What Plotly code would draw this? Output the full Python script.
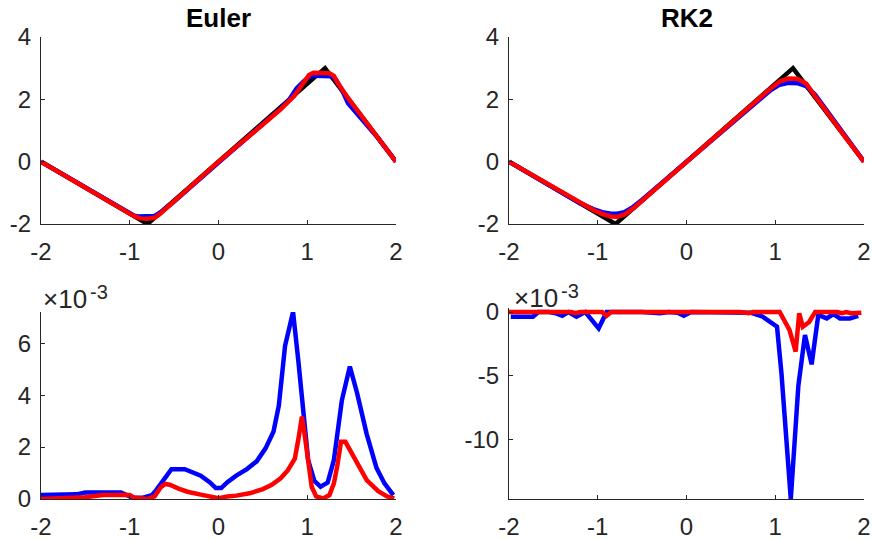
import plotly.graph_objects as go

# ---------------- data ----------------
# exact piecewise-linear solution (black)
x_exact = [-2.0, -0.8, 1.2, 2.0]
y_exact = [0.0, -2.0, 3.0, 0.0]

# Euler (top-left)
x_eu_blue = [-2, -1.5, -1.1, -1.0, -0.95, -0.9, -0.8, -0.72, -0.65, -0.5, 0, 0.4, 0.7, 0.8, 0.88, 0.95,
             1.02, 1.08, 1.2, 1.28, 1.33, 1.4, 1.46, 1.6, 1.8, 2.0]
y_eu_blue = [0, -0.83, -1.5, -1.65, -1.73, -1.76, -1.76, -1.74, -1.62, -1.28, -0.03, 0.95, 1.7, 2.0, 2.35, 2.55,
             2.72, 2.76, 2.76, 2.74, 2.6, 2.25, 1.87, 1.4, 0.75, 0.0]
x_eu_red = [-2, -1.5, -1.1, -1.0, -0.95, -0.88, -0.8, -0.72, -0.66, -0.5, 0, 0.4, 0.7, 0.85, 0.95, 1.02,
            1.07, 1.15, 1.25, 1.3, 1.35, 1.45, 1.6, 1.8, 2.0]
y_eu_red = [0, -0.83, -1.5, -1.67, -1.75, -1.82, -1.83, -1.8, -1.68, -1.27, 0, 0.95, 1.68, 2.1, 2.5, 2.78,
            2.85, 2.86, 2.84, 2.75, 2.5, 2.08, 1.5, 0.75, 0]

# RK2 (top-right)
x_rk_blue = [-2, -1.5, -1.2, -1.05, -0.95, -0.85, -0.78, -0.7, -0.6, -0.5, 0, 0.5, 0.8, 0.95, 1.05, 1.15,
             1.25, 1.35, 1.45, 1.55, 1.7, 1.85, 2.0]
y_rk_blue = [0, -0.83, -1.33, -1.52, -1.62, -1.67, -1.67, -1.62, -1.45, -1.22, 0, 1.22, 1.95, 2.3, 2.47, 2.53,
             2.52, 2.42, 2.15, 1.75, 1.15, 0.58, 0]
x_rk_red = [-2, -1.5, -1.2, -1.05, -0.95, -0.85, -0.78, -0.7, -0.6, -0.5, 0, 0.5, 0.8, 0.95, 1.05, 1.15,
            1.25, 1.35, 1.45, 1.6, 1.8, 2.0]
y_rk_red = [0, -0.83, -1.33, -1.55, -1.68, -1.76, -1.77, -1.7, -1.5, -1.25, 0, 1.25, 2.0, 2.35, 2.57, 2.67,
            2.66, 2.5, 2.1, 1.5, 0.75, 0]

# Euler error (bottom-left), units of 1e-3
x_eu_err_blue = [-2, -1.75, -1.6, -1.5, -1.1, -1.0, -0.95, -0.85, -0.75, -0.7, -0.6, -0.53, -0.38, -0.3, -0.2,
                 -0.1, -0.03, 0.03, 0.1, 0.2, 0.32, 0.43, 0.53, 0.62, 0.68, 0.75, 0.84, 0.9, 0.95, 1.01, 1.08,
                 1.15, 1.23, 1.3, 1.39, 1.48, 1.56, 1.67, 1.78, 1.87, 1.97]
y_eu_err_blue = [0.15, 0.15, 0.18, 0.25, 0.25, 0.1, 0.05, 0.05, 0.15, 0.35, 0.8, 1.15, 1.15, 1.05, 0.9,
                 0.65, 0.42, 0.42, 0.65, 0.9, 1.15, 1.45, 1.95, 2.6, 3.6, 5.9, 7.2, 5.3, 3.4, 1.5, 0.7,
                 0.47, 0.63, 1.5, 3.8, 5.1, 4.1, 2.5, 1.2, 0.6, 0.15]
x_eu_err_red = [-2, -1.7, -1.5, -1.3, -1.0, -0.95, -0.9, -0.8, -0.72, -0.65, -0.6, -0.55, -0.45, -0.35, -0.2,
                -0.1, 0.0, 0.1, 0.2, 0.35, 0.5, 0.6, 0.7, 0.78, 0.86, 0.9, 0.94, 0.97, 1.0, 1.05, 1.1, 1.18,
                1.25, 1.3, 1.34, 1.38, 1.43, 1.48, 1.56, 1.67, 1.8, 1.9, 1.98]
y_eu_err_red = [0, 0.02, 0.07, 0.15, 0.15, 0.05, 0.02, 0.0, 0.1, 0.45, 0.58, 0.55, 0.4, 0.28, 0.17,
                0.1, 0.03, 0.1, 0.13, 0.22, 0.38, 0.55, 0.8, 1.1, 1.55, 2.3, 3.17, 2.5, 1.6, 0.47, 0.1, 0.02,
                0.15, 0.6, 1.3, 2.2, 2.2, 1.9, 1.37, 0.73, 0.3, 0.1, 0.02]

# RK2 error (bottom-right), units of 1e-3
x_rk_err_blue = [-1.98, -1.73, -1.67, -1.55, -1.47, -1.4, -1.33, -1.24, -1.14, -0.99, -0.9, -0.8, -0.5, -0.3,
                 -0.2, -0.1, -0.03, 0.05, 0.3, 0.5, 0.72, 0.86, 0.98, 1.02, 1.07, 1.13, 1.175, 1.22, 1.26,
                 1.335, 1.41, 1.485, 1.58, 1.655, 1.73, 1.84, 1.88, 1.935]
y_rk_err_blue = [-0.37, -0.37, 0, 0, -0.1, -0.29, 0, -0.37, 0, -1.28, 0, 0, 0, -0.1,
                 0, -0.05, -0.29, 0, 0, 0, -0.05, -0.37, -0.9, -1.15, -4.8, -10, -14.65, -10, -5.8,
                 -1.8, -4.1, -0.23, -0.5, -0.16, -0.5, -0.5, -0.4, -0.3]
x_rk_err_red = [-2, -1.3, -1.25, -1.2, -0.95, -0.9, -0.85, 0.6, 0.7, 0.75, 1.05, 1.16, 1.23, 1.27, 1.31,
                1.38, 1.45, 1.7, 1.75, 1.8, 1.85, 1.97]
y_rk_err_red = [0, 0, -0.1, 0, 0, -0.29, 0, 0, -0.1, 0, 0, -1.4, -3.1, -0.1, -1.15,
                -0.8, 0, 0, -0.1, 0, -0.1, -0.05]

x_ticks = [-2, -1, 0, 1, 2]
top_yticks = [-2, 0, 2, 4]
eu_err_yticks = [0, 2, 4, 6]
rk_err_yticks = [-10, -5, 0]
titles = ["Euler", "RK2"]
exponent_base = "×10"
exponent_power = "-3"

def labels(vals):
    return ["%g" % v for v in vals]  # ASCII hyphen-minus, as in the reference

# ---------------- layout helpers ----------------
W, H = 873, 540
def px_x(p):
    return p / W
def px_y(p):
    return 1 - p / H

FONT = "Liberation Sans, Arial, Helvetica, sans-serif"
TXT = "#262626"
LW = 4.5

fig = go.Figure()

def add(x, y, color, xa, ya):
    fig.add_trace(go.Scatter(x=x, y=y, mode="lines", line=dict(color=color, width=LW),
                             xaxis=xa, yaxis=ya, showlegend=False, hoverinfo="skip"))

add(x_exact, y_exact, "#000000", "x", "y")
add(x_eu_blue, y_eu_blue, "#0000ff", "x", "y")
add(x_eu_red, y_eu_red, "#ff0000", "x", "y")
add(x_exact, y_exact, "#000000", "x2", "y2")
add(x_rk_blue, y_rk_blue, "#0000ff", "x2", "y2")
add(x_rk_red, y_rk_red, "#ff0000", "x2", "y2")
add(x_eu_err_blue, y_eu_err_blue, "#0000ff", "x3", "y3")
add(x_eu_err_red, y_eu_err_red, "#ff0000", "x3", "y3")
add(x_rk_err_blue, y_rk_err_blue, "#0000ff", "x4", "y4")
add(x_rk_err_red, y_rk_err_red, "#ff0000", "x4", "y4")

common = dict(showgrid=False, zeroline=False, showline=True, linecolor=TXT, linewidth=1,
              ticks="inside", ticklen=4, tickwidth=1, tickcolor=TXT, automargin=False,
              tickfont=dict(family=FONT, size=24, color=TXT), mirror=False)

L1, R1 = 41, 396
L2, R2 = 509, 864
T_TOP, B_TOP = 37, 224
T_BOT, B_BOT = 312, 499

# bottom-right range slightly extended above 0 so the zero line isn't clipped
rk_min, rk_max = -14.65, 0.3
rk_pp = (B_BOT - T_BOT) / (0 - rk_min)
T_BOT_R = T_BOT - rk_max * rk_pp

xt = dict(range=[-2, 2], tickvals=x_ticks, ticktext=labels(x_ticks), ticklabelstandoff=6)

fig.update_layout(
    template="none",
    width=W, height=H, margin=dict(l=0, r=0, t=0, b=0, pad=0),
    paper_bgcolor="white", plot_bgcolor="white",
    xaxis=dict(domain=[px_x(L1), px_x(R1)], anchor="y", **xt, **common),
    yaxis=dict(domain=[px_y(B_TOP), px_y(T_TOP)], range=[-2, 4], tickvals=top_yticks,
               ticktext=labels(top_yticks), anchor="x", ticklabelstandoff=4, **common),
    xaxis2=dict(domain=[px_x(L2), px_x(R2)], anchor="y2", **xt, **common),
    yaxis2=dict(domain=[px_y(B_TOP), px_y(T_TOP)], range=[-2, 4], tickvals=top_yticks,
                ticktext=labels(top_yticks), anchor="x2", ticklabelstandoff=4, **common),
    xaxis3=dict(domain=[px_x(L1), px_x(R1)], anchor="y3", **xt, **common),
    yaxis3=dict(domain=[px_y(B_BOT), px_y(T_BOT)], range=[0, 7.2], tickvals=eu_err_yticks,
                ticktext=labels(eu_err_yticks), anchor="x3", ticklabelstandoff=4, **common),
    xaxis4=dict(domain=[px_x(L2), px_x(R2)], anchor="y4", **xt, **common),
    yaxis4=dict(domain=[px_y(B_BOT), px_y(T_BOT_R)], range=[rk_min, rk_max], tickvals=rk_err_yticks,
                ticktext=labels(rk_err_yticks), anchor="x4", ticklabelstandoff=4, **common),
)

ann = []
for t, (l, r) in zip(titles, [(L1, R1), (L2, R2)]):
    ann.append(dict(text="<b>%s</b>" % t, x=px_x((l + r) / 2), y=px_y(18), xref="paper", yref="paper",
                    xanchor="center", yanchor="middle", showarrow=False,
                    font=dict(family=FONT, size=26, color="#000000")))
for l, base_y in ((L1 + 1, 315), (L2 + 4, 314)):
    ann.append(dict(text=exponent_base, x=px_x(l), y=px_y(base_y), xref="paper", yref="paper",
                    xanchor="left", yanchor="bottom", showarrow=False, borderpad=0,
                    font=dict(family=FONT, size=26, color=TXT)))
    ann.append(dict(text=exponent_power, x=px_x(l + 47), y=px_y(base_y - 11), xref="paper", yref="paper",
                    xanchor="left", yanchor="bottom", showarrow=False, borderpad=0,
                    font=dict(family=FONT, size=20, color=TXT)))
fig.update_layout(annotations=ann)

fig.write_html("out.html")
